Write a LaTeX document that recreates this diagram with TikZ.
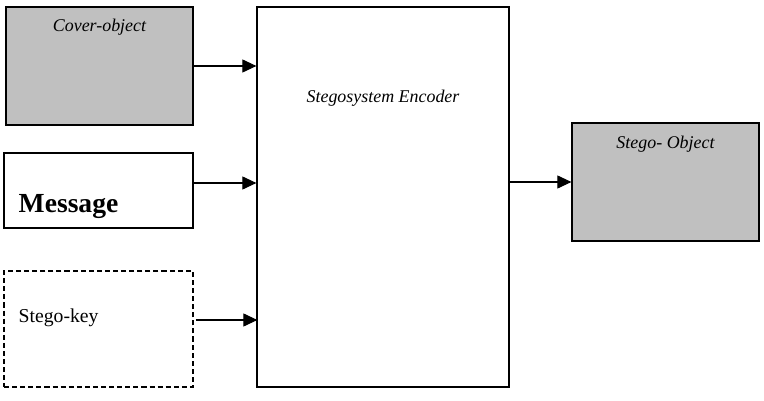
\documentclass[tikz,border=0pt]{standalone}
\usepackage{fontspec}
\setmainfont{Liberation Serif}
\usepackage{xcolor}
\usetikzlibrary{calc, positioning, arrows.meta}

\definecolor{boxgray}{RGB}{192,192,192}

\tikzset{
    blok/.style={draw, line width=0.7pt, rectangle, inner sep=0pt},
    grijs/.style={blok, fill=boxgray},
    txt/.style={inner sep=0pt, font=\fontsize{10.2}{12}\selectfont\itshape},
    pijl/.style={->, line width=0.6pt}
}

\begin{document}
\begin{tikzpicture}[>={Triangle[length=2.8mm, width=2.6mm]}]
    \useasboundingbox (0,0) rectangle (15.28,8);

    % 1. De blokken links
    \node[grijs, minimum width=3.74cm, minimum height=2.36cm] (cover) at (1.99,6.68) {};
    \node[blok, minimum width=3.78cm, minimum height=1.5cm] (msg) at (1.97,4.19) {};
    \node[blok, dash pattern=on 2.9pt off 1.7pt, minimum width=3.78cm, minimum height=2.32cm] (key) at (1.97,1.42) {};

    % 2. Encoder en uitvoer
    \node[blok, minimum width=5.04cm, minimum height=7.6cm] (enc) at (7.66,4.06) {};
    \node[grijs, minimum width=3.74cm, minimum height=2.36cm] (stego) at (13.31,4.36) {};

    % 3. Teksten
    \node[txt, anchor=base] (covertxt) at ($(cover.north)+(0,-0.5)$) {Cover-object};
    \node[inner sep=0pt, anchor=base west, font=\fontsize{15.7}{18}\selectfont\bfseries] (msgtxt) at ($(msg.north west)+(0.3,-1.2)$) {Message};
    \node[inner sep=0pt, anchor=base west, font=\fontsize{11.2}{13}\selectfont] (keytxt) at ($(key.north west)+(0.3,-1.05)$) {Stego-key};
    \node[txt, anchor=base] (enctxt) at ($(enc.north)+(0,-1.92)$) {Stegosystem Encoder};
    \node[txt, anchor=base] (stegotxt) at ($(stego.north)+(0,-0.52)$) {Stego- Object};

    % 4. Pijlen
    \draw[pijl] (cover.east) -- (cover.east -| enc.west);
    \draw[pijl] ([yshift=0.15cm]msg.east) -- ([yshift=0.15cm]msg.east -| enc.west);
    \draw[pijl] ([shift={(0.04,0.18)}]key.east) -- ([shift={(0.02,0.18)}]key.east -| enc.west);
    \draw[pijl] (enc.east |- stego.west) -- (stego.west);

\end{tikzpicture}
\end{document}
